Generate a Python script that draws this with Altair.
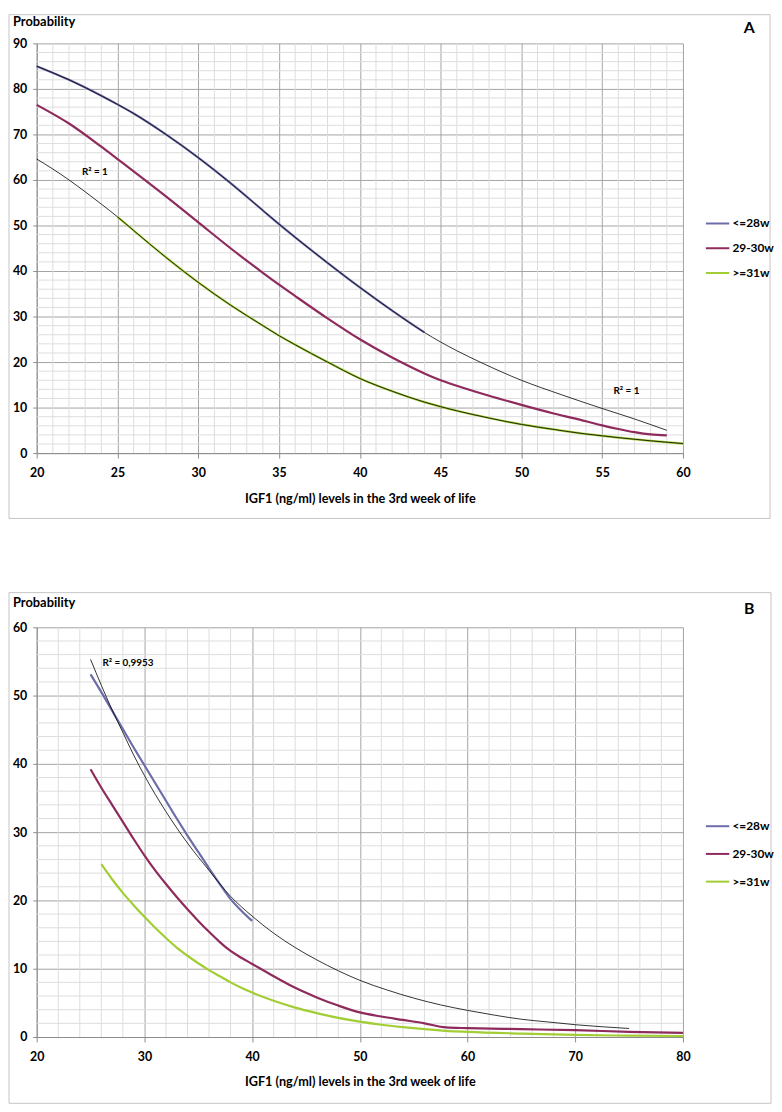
import altair as alt
import pandas as pd

FONT = "Lato"
GROUPS = ["<=28w", "29-30w", ">=31w"]
COLORS = ["#6c6cab", "#8e2b5c", "#a3cd34"]
XTITLE = "IGF1 (ng/ml) levels in the 3rd week of life"

# ---------------- Panel A ----------------
A_X28 = [20, 22, 24, 25, 26, 28, 30, 32, 34, 35, 36, 38, 40, 42, 44]
A_Y28 = [85.0, 82.0, 78.5, 76.6, 74.6, 70.0, 64.9, 59.3, 53.3, 50.3, 47.4, 41.8, 36.4, 31.3, 26.5]
A_X2930 = [20, 22, 24, 25, 26, 28, 30, 32, 34, 35, 36, 38, 40, 42, 44, 45, 46, 48, 50, 52, 54, 55, 56, 57, 58, 59]
A_Y2930 = [76.5, 72.4, 67.3, 64.6, 61.9, 56.4, 50.7, 45.0, 39.6, 37.0, 34.5, 29.6, 25.0, 21.0, 17.5, 16.0,
           14.8, 12.6, 10.6, 8.7, 7.0, 6.1, 5.3, 4.6, 4.1, 3.9]
A_X31 = [25, 26, 28, 30, 32, 34, 35, 36, 38, 40, 42, 44, 45, 46, 48, 50, 52, 54, 55, 56, 58, 60]
A_Y31 = [51.9, 48.9, 43.0, 37.5, 32.5, 28.0, 25.8, 23.8, 20.0, 16.4, 13.6, 11.2, 10.2, 9.3, 7.7, 6.3,
         5.2, 4.2, 3.8, 3.4, 2.7, 2.1]
# trendlines (R² = 1)
A_T28_X = [20, 22, 24, 25, 26, 28, 30, 32, 34, 35, 36, 38, 40, 42, 44, 45, 46, 47.5, 50, 52.5, 55, 57, 59]
A_T28_Y = [85.0, 82.0, 78.5, 76.6, 74.6, 70.0, 64.9, 59.3, 53.3, 50.3, 47.4, 41.8, 36.4, 31.3, 26.5, 24.4,
           22.5, 19.9, 16.0, 12.8, 9.8, 7.5, 5.0]
A_T31_X = [20, 21, 22, 23, 24, 25, 26, 28, 30, 32, 34, 35, 36, 38, 40, 42, 44, 45, 46, 48, 50, 52, 54, 55, 56, 58, 60]
A_T31_Y = [64.6, 62.4, 60.0, 57.4, 54.7, 51.9, 48.9, 43.0, 37.5, 32.5, 28.0, 25.8, 23.8, 20.0, 16.4, 13.6,
           11.2, 10.2, 9.3, 7.7, 6.3, 5.2, 4.2, 3.8, 3.4, 2.7, 2.1]
A_R2_X = [22.8, 55.7]
A_R2_Y = [61.8, 13.6]
A_R2_T = ["R² = 1", "R² = 1"]

# ---------------- Panel B ----------------
B_X28 = [25, 26, 27, 28, 29, 30, 31, 32, 33, 34, 35, 36, 37, 38, 39, 40]
B_Y28 = [53.1, 50.5, 47.8, 45.1, 42.4, 39.8, 37.2, 34.6, 32.0, 29.5, 27.1, 24.7, 22.4, 20.2, 18.5, 17.0]
B_X2930 = [25, 26, 27, 28, 29, 30, 31, 32, 33, 34, 35, 36, 37, 38, 39, 40, 42, 44, 46, 48, 50, 52, 54, 56,
           58, 60, 65, 70, 75, 80]
B_Y2930 = [39.2, 36.5, 34.0, 31.5, 29.0, 26.6, 24.4, 22.4, 20.5, 18.7, 17.0, 15.4, 13.9, 12.6, 11.6, 10.7,
           8.9, 7.2, 5.8, 4.6, 3.6, 3.0, 2.5, 2.0, 1.4, 1.3, 1.15, 1.0, 0.75, 0.6]
B_X31 = [26, 27, 28, 29, 30, 31, 32, 33, 34, 35, 36, 37, 38, 39, 40, 42, 44, 46, 48, 50, 52, 54, 56, 58, 60,
         65, 70, 75, 80]
B_Y31 = [25.3, 23.1, 21.1, 19.3, 17.6, 16.0, 14.5, 13.1, 11.9, 10.8, 9.8, 8.9, 8.0, 7.2, 6.5, 5.3, 4.3, 3.5,
         2.8, 2.25, 1.8, 1.45, 1.15, 0.9, 0.75, 0.5, 0.3, 0.2, 0.15]
# trendline (R² = 0,9953)
B_T28_X = [25, 26, 27, 28, 29, 30, 32, 34, 36, 38, 40, 42, 44, 46, 48, 50, 52.5, 55, 57.5, 60, 62.5, 65,
           67.5, 70, 72.5, 75]
B_T28_Y = [55.3, 51.5, 47.9, 44.6, 41.3, 38.3, 33.0, 28.4, 24.4, 20.6, 17.7, 15.2, 13.1, 11.3, 9.7, 8.3,
           6.9, 5.7, 4.7, 3.9, 3.2, 2.6, 2.2, 1.8, 1.5, 1.25]
B_R2_X = [26.1]
B_R2_Y = [54.8]
B_R2_T = ["R² = 0,9953"]

MAJ = "#a3a3a3"
MIN = "#dedede"
W, H = 653, 414


def long(pairs):
    rows = []
    for g, xs, ys in pairs:
        for x, y in zip(xs, ys):
            rows.append({"x": x, "y": y, "g": g})
    return pd.DataFrame(rows)


def panel(series, trends, r2, xdom, ydom, xmaj, ymaj, xminor, yminor, letter,
          letter_xy, prob_xy, box, leg_y, leg_pad):
    xs = alt.Scale(domain=xdom, nice=False, zero=False)
    ys = alt.Scale(domain=ydom, nice=False, zero=False)
    xaxis = alt.Axis(values=xmaj, grid=True, gridColor=MAJ, gridWidth=1, title=XTITLE,
                     labelFont=FONT, labelFontSize=12.5, labelFontWeight="bold", labelColor="#000",
                     titleFont=FONT, titleFontSize=12.8, titleFontWeight="bold", titleColor="#000",
                     titlePadding=13, tickSize=5, tickColor="#8c8c8c", domainColor="#8c8c8c",
                     labelPadding=9, labelFlush=False)
    yaxis = alt.Axis(values=ymaj, grid=True, gridColor=MAJ, gridWidth=1, title=None,
                     labelFont=FONT, labelFontSize=12.5, labelFontWeight="bold", labelColor="#000",
                     tickSize=4, tickColor="#8c8c8c", domainColor="#8c8c8c", labelPadding=6,
                     labelFlush=False)

    def X(f="x"):
        return alt.X(f + ":Q", scale=xs, axis=xaxis)

    def Y(f="y"):
        return alt.Y(f + ":Q", scale=ys, axis=yaxis)

    vminor = alt.Chart(pd.DataFrame({"x": xminor})).mark_rule(color=MIN, strokeWidth=1).encode(x=X())
    hminor = alt.Chart(pd.DataFrame({"y": yminor})).mark_rule(color=MIN, strokeWidth=1).encode(y=Y())

    lines = alt.Chart(long(series)).mark_line(strokeWidth=2.2, interpolate="monotone").encode(
        x=X(), y=Y(),
        color=alt.Color("g:N", scale=alt.Scale(domain=GROUPS, range=COLORS),
                        legend=alt.Legend(orient="none", legendX=675, legendY=leg_y, title=None,
                                          symbolType="stroke", symbolSize=560, symbolStrokeWidth=2,
                                          labelFont=FONT, labelFontSize=12, labelFontWeight="bold",
                                          labelColor="#000", labelOffset=2, rowPadding=leg_pad,
                                          padding=0)),
        detail="g:N")
    trend = alt.Chart(long(trends)).mark_line(strokeWidth=0.8, interpolate="monotone").encode(
        x=X(), y=Y(), detail="g:N", color=alt.value("#000000"))
    r2t = alt.Chart(pd.DataFrame({"x": r2[0], "y": r2[1], "t": r2[2]})).mark_text(
        align="left", baseline="middle", font=FONT, fontSize=10, fontWeight="bold", color="#000"
    ).encode(x=X(), y=Y(), text="t:N")

    one = pd.DataFrame({"k": [0]})
    border = alt.Chart(one).mark_rect(fillOpacity=0, stroke="#c4c4c4", strokeWidth=1).encode(
        x=alt.value(box[0]), x2=alt.value(box[1]), y=alt.value(box[2]), y2=alt.value(box[3]))
    prob = alt.Chart(one).mark_text(align="left", baseline="alphabetic", font=FONT, fontSize=13,
                                    fontWeight="bold", color="#000").encode(
        x=alt.value(prob_xy[0]), y=alt.value(prob_xy[1]), text=alt.value("Probability"))
    let = alt.Chart(one).mark_text(align="center", baseline="alphabetic", font=FONT, fontSize=16,
                                   fontWeight="bold", color="#000").encode(
        x=alt.value(letter_xy[0]), y=alt.value(letter_xy[1]), text=alt.value(letter))

    return alt.layer(vminor, hminor, lines, trend, r2t, border, prob, let).properties(width=W, height=H)


A = panel(
    series=[("<=28w", A_X28, A_Y28), ("29-30w", A_X2930, A_Y2930), (">=31w", A_X31, A_Y31)],
    trends=[("t28", A_T28_X, A_T28_Y), ("t31", A_T31_X, A_T31_Y)],
    r2=(A_R2_X, A_R2_Y, A_R2_T),
    xdom=[20, 60], ydom=[0, 90],
    xmaj=[20, 25, 30, 35, 40, 45, 50, 55, 60], ymaj=[0, 10, 20, 30, 40, 50, 60, 70, 80, 90],
    xminor=[v for v in range(20, 61) if v % 5], yminor=[v for v in range(0, 91, 2) if v % 10],
    letter="A", letter_xy=(720, -10), prob_xy=(-24, -18), box=(-28, 741, -29, 480),
    leg_y=169, leg_pad=6)

B = panel(
    series=[("<=28w", B_X28, B_Y28), ("29-30w", B_X2930, B_Y2930), (">=31w", B_X31, B_Y31)],
    trends=[("t28", B_T28_X, B_T28_Y)],
    r2=(B_R2_X, B_R2_Y, B_R2_T),
    xdom=[20, 80], ydom=[0, 60],
    xmaj=[20, 30, 40, 50, 60, 70, 80], ymaj=[0, 10, 20, 30, 40, 50, 60],
    xminor=[v for v in range(20, 81, 2) if v % 10], yminor=[v for v in range(0, 61, 2) if v % 10],
    letter="B", letter_xy=(720, -13), prob_xy=(-24, -21), box=(-28, 742, -35, 481),
    leg_y=188, leg_pad=9)

chart = alt.vconcat(A, B, spacing=176, bounds="flush").resolve_scale(
    x="independent", y="independent", color="independent"
).resolve_legend(color="independent").configure_view(stroke=None).properties(padding=0)

chart.save("out.html", embed_options={"renderer": "svg", "actions": False})
